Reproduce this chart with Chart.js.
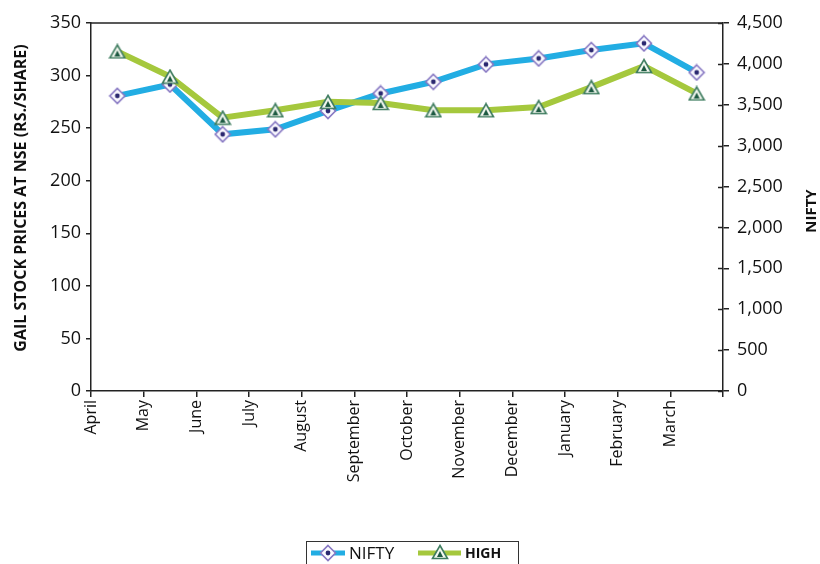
<!DOCTYPE html>
<html>
<head>
<meta charset="utf-8">
<title>GAIL vs NIFTY</title>
<script src="https://cdn.jsdelivr.net/npm/chart.js@4/dist/chart.umd.min.js"></script>
<style>
  html, body { margin: 0; padding: 0; background: #fff; }
  #wrap { width: 820px; height: 564px; position: relative; }
</style>
</head>
<body>
<div id="wrap"><canvas id="line-chart"></canvas></div>
<script>
// datos del grafico
const months = ["April", "May", "June", "July", "August", "September",
  "October", "November", "December", "January", "February", "March"];
const niftyValues = [3609, 3748, 3139, 3200, 3425, 3638, 3781, 3994, 4067, 4169, 4251, 3895];
const highValues = [323, 299, 260, 267, 275, 274, 267, 267, 270, 289, 309, 283];

const leftTitle = "GAIL STOCK PRICES AT NSE (RS./SHARE)";
const rightTitle = "NIFTY";

const blue = "#22ade3";
const green = "#a5c83d";
const fontName = "'Open Sans', 'Noto Sans', sans-serif";

// marcadores (rombo y triangulo) dibujados en canvas pequenos
function makeDiamond() {
  const c = document.createElement("canvas");
  c.width = 18; c.height = 18;
  const g = c.getContext("2d");
  g.beginPath();
  g.moveTo(9, 1.5); g.lineTo(16.5, 9); g.lineTo(9, 16.5); g.lineTo(1.5, 9); g.closePath();
  g.fillStyle = "#fbfaff"; g.fill();
  g.lineWidth = 1.6; g.strokeStyle = "#8677c2"; g.stroke();
  g.beginPath(); g.arc(9, 9, 2.4, 0, Math.PI * 2);
  g.fillStyle = "#2b2870"; g.fill();
  return c;
}
function makeTriangle() {
  const c = document.createElement("canvas");
  c.width = 18; c.height = 16;
  const g = c.getContext("2d");
  g.beginPath();
  g.moveTo(9, 1.5); g.lineTo(16.5, 14.5); g.lineTo(1.5, 14.5); g.closePath();
  g.fillStyle = "#f4f8f0"; g.fill();
  g.lineWidth = 1.6; g.strokeStyle = "#3f7d60"; g.stroke();
  g.beginPath();
  g.moveTo(9, 7); g.lineTo(12, 13); g.lineTo(6, 13); g.closePath();
  g.fillStyle = "#1d5a42"; g.fill();
  return c;
}
const diamond = makeDiamond();
const triangle = makeTriangle();

// marco superior, ticks interiores del eje derecho, titulos de ejes y leyenda
const extras = {
  id: "extras",
  afterDraw(chart) {
    const ctx = chart.ctx;
    const a = chart.chartArea;
    ctx.save();
    ctx.strokeStyle = "#222";
    ctx.lineWidth = 1.5;
    ctx.beginPath();
    ctx.moveTo(a.left, a.top); ctx.lineTo(a.right, a.top);
    ctx.stroke();
    const y1 = chart.scales.y1;
    y1.ticks.forEach(t => {
      const py = Math.round(y1.getPixelForValue(t.value)) + 0.5;
      ctx.beginPath(); ctx.moveTo(a.right - 5, py); ctx.lineTo(a.right, py); ctx.stroke();
    });
    ctx.restore();

    // titulos de ejes (ambos leidos de abajo hacia arriba)
    ctx.save();
    ctx.fillStyle = "#111";
    ctx.textAlign = "center"; ctx.textBaseline = "middle";
    ctx.font = "bold 16px " + fontName;
    ctx.translate(21, 198);
    ctx.rotate(-Math.PI / 2);
    ctx.fillText(leftTitle, 0, 0);
    ctx.restore();

    ctx.save();
    ctx.fillStyle = "#111";
    ctx.textAlign = "center"; ctx.textBaseline = "middle";
    ctx.font = "bold 15px " + fontName;
    ctx.translate(812, 211);
    ctx.rotate(-Math.PI / 2);
    ctx.fillText(rightTitle, 0, 0);
    ctx.restore();

    // leyenda con caja
    ctx.save();
    ctx.strokeStyle = "#333"; ctx.lineWidth = 1;
    ctx.strokeRect(306.5, 541.5, 212, 24);
    const ly = 553;
    ctx.lineWidth = 5;
    ctx.strokeStyle = blue;
    ctx.beginPath(); ctx.moveTo(311, ly); ctx.lineTo(345, ly); ctx.stroke();
    ctx.drawImage(diamond, 328 - 9, ly - 9);
    ctx.fillStyle = "#111";
    ctx.textBaseline = "middle";
    ctx.font = "17px " + fontName;
    ctx.fillText("NIFTY", 349, ly + 1);
    ctx.strokeStyle = green;
    ctx.beginPath(); ctx.moveTo(418, ly); ctx.lineTo(461, ly); ctx.stroke();
    ctx.drawImage(triangle, 440 - 9, ly - 9);
    ctx.font = "bold 14px " + fontName;
    ctx.fillText("HIGH", 465, ly + 1);
    ctx.restore();
  }
};

const niftyPoints = months.map((m, i) => ({ x: i + 0.5, y: niftyValues[i] }));
const highPoints = months.map((m, i) => ({ x: i + 0.5, y: highValues[i] }));

const containerLineChart = document.querySelector("#line-chart").getContext("2d");

const configLine = {
  type: "line",
  data: {
    datasets: [
      {
        label: "NIFTY",
        data: niftyPoints,
        yAxisID: "y1",
        borderColor: blue,
        borderWidth: 6,
        pointStyle: diamond,
        order: 2
      },
      {
        label: "HIGH",
        data: highPoints,
        yAxisID: "y",
        borderColor: green,
        borderWidth: 6,
        pointStyle: triangle,
        order: 1
      }
    ]
  },
  options: {
    responsive: true,
    maintainAspectRatio: false,
    animation: false,
    events: [],
    layout: { padding: { top: 23, bottom: 43, left: 0, right: 0 } },
    plugins: { legend: { display: false }, tooltip: { enabled: false } },
    scales: {
      x: {
        type: "linear",
        min: 0,
        max: 12,
        afterFit(s) { s.height = 130; },
        border: { color: "#222", width: 1.5 },
        grid: { drawOnChartArea: false, tickLength: 6, color: "#222", lineWidth: 1.5 },
        ticks: {
          stepSize: 1,
          autoSkip: false,
          minRotation: 90,
          maxRotation: 90,
          padding: 3,
          color: "#111",
          font: { family: fontName, size: 16 },
          callback: v => months[v] || ""
        }
      },
      y: {
        position: "left",
        min: 0,
        max: 350,
        afterFit(s) { s.width = 91; },
        border: { color: "#222", width: 1.5 },
        grid: { drawOnChartArea: false, tickLength: 5, color: "#222", lineWidth: 1.5 },
        ticks: { stepSize: 50, padding: 5, color: "#111", font: { family: fontName, size: 18 } }
      },
      y1: {
        position: "right",
        min: 0,
        max: 4500,
        afterFit(s) { s.width = 97; },
        border: { color: "#222", width: 1.5 },
        grid: { drawOnChartArea: false, tickLength: 6, color: "#222", lineWidth: 1.5 },
        ticks: {
          stepSize: 500,
          padding: 8,
          color: "#111",
          font: { family: fontName, size: 18 },
          callback: v => v.toLocaleString("en-US")
        }
      }
    }
  },
  plugins: [extras]
};

const lineChart = new Chart(containerLineChart, configLine);
</script>
</body>
</html>
